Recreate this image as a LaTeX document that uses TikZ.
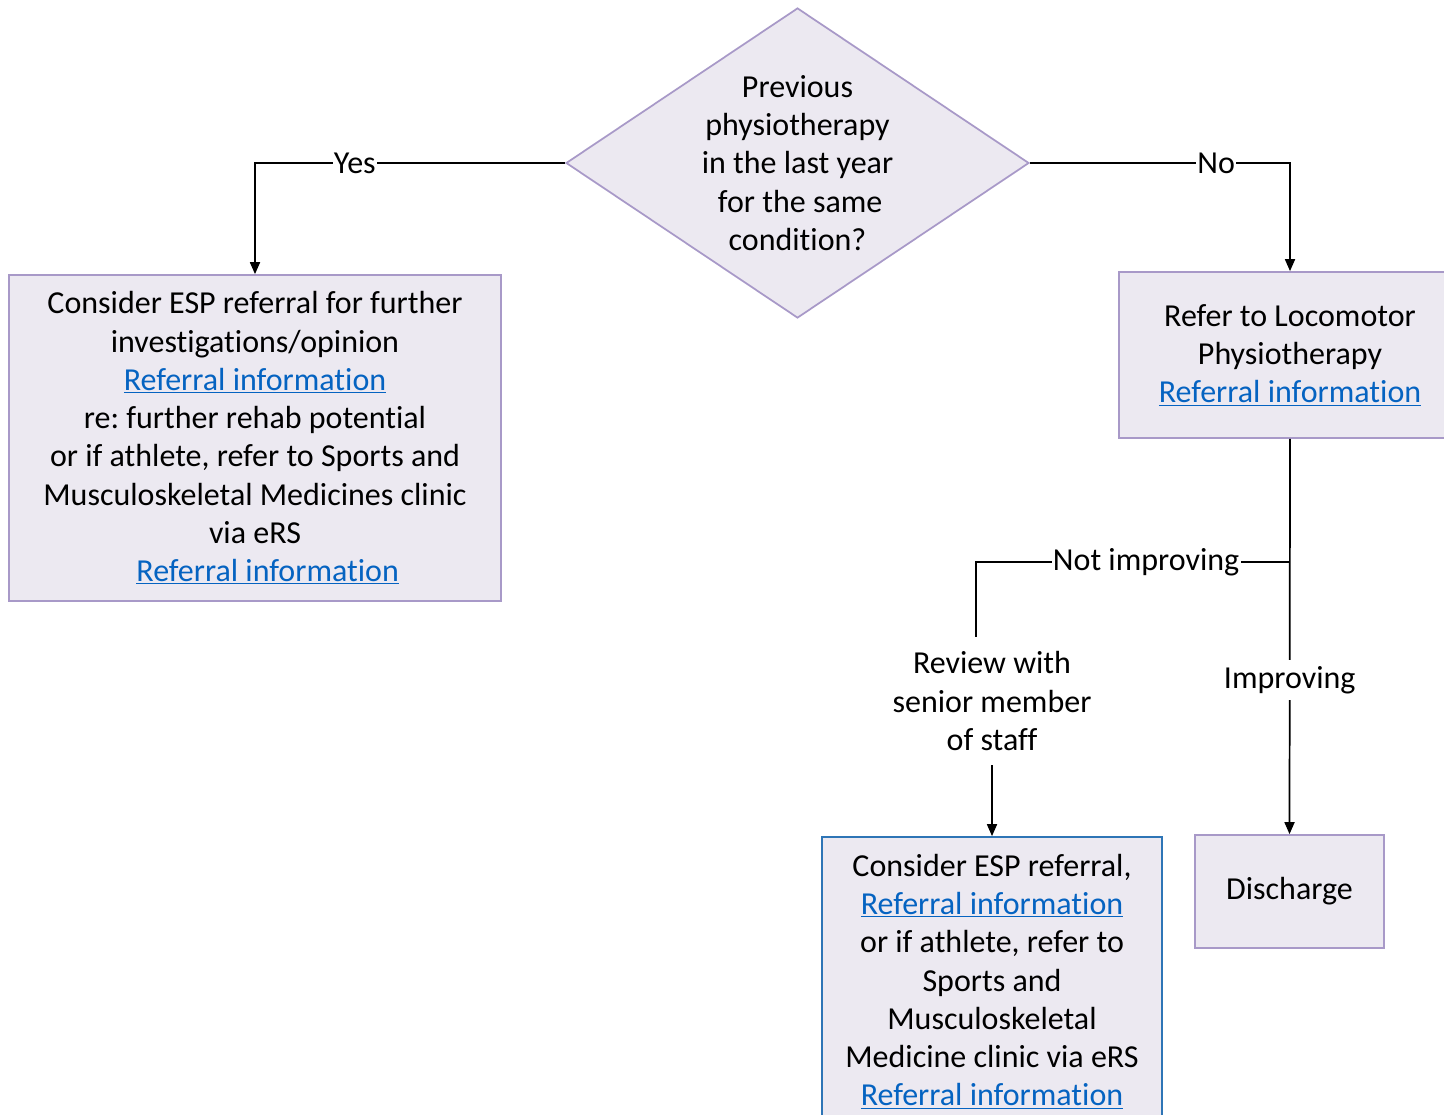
\documentclass[tikz,border=0pt]{standalone}
\usepackage{fontspec}
\setmainfont{Carlito}[Ligatures={NoCommon,NoContextual}, RawFeature={-liga;-clig;-dlig}]
\frenchspacing
\usetikzlibrary{shapes.geometric,arrows.meta}
\definecolor{boxfill}{HTML}{ECE9F1}
\definecolor{boxline}{HTML}{A899C8}
\definecolor{bluebd}{HTML}{2E75B6}
\definecolor{linkblue}{HTML}{0563C1}
\newcommand{\lnk}{{\color{linkblue}\underline{Referral information}}}
\tikzset{
  base/.style={font=\fontsize{24}{28.7}\selectfont, align=center},
  box/.style={base, draw=boxline, fill=boxfill, line width=1.3pt, inner sep=0pt},
  bluebox/.style={box, draw=bluebd},
  decision/.style={diamond, draw=boxline, fill=boxfill, line width=1.3pt, inner sep=0pt},
  plain/.style={base, inner xsep=4pt, inner ysep=11pt},
  lab/.style={base, fill=white, inner xsep=1pt, inner ysep=2pt},
  vlab/.style={base, fill=white, inner xsep=2pt, inner ysep=5pt},
  conn/.style={line width=1.3pt, black},
  arr/.style={conn, -{Triangle[length=9pt,width=7.5pt]}}
}
\begin{document}
\begin{tikzpicture}[x=0.75pt, y=-0.75pt]
\useasboundingbox (0,0) rectangle (1444,1114);
\clip (0,0) rectangle (1444,1114);
\fill[white] (0,0) rectangle (1444,1114);

\node[decision, minimum width=347.25pt, minimum height=232.5pt] (q) at (797.5,163) {};
\node[base] (qt) at (q.center) {Previous\\ physiotherapy\\ in the last year\\ \hspace*{4pt}for the same\\ condition?};

\node[box, minimum width=369pt, minimum height=244.5pt] (esp) at (255,438)
  {Consider ESP referral for further\\ investigations/opinion\\ \lnk\\ re: further rehab potential\\ or if athlete, refer to Sports and\\ Musculoskeletal Medicines clinic\\ via eRS\\ \hspace*{19pt}\lnk};

\node[box, minimum width=256.5pt, minimum height=124.5pt] (loc) at (1290,355)
  {Refer to Locomotor\\ Physiotherapy\\ \lnk};

\node[box, minimum width=141.75pt, minimum height=84.75pt] (dis) at (1289.5,891.5) {Discharge};

\node[plain] (rev) at (992,701) {Review with\\ senior member\\ of staff};

\node[bluebox, minimum width=255pt, minimum height=216.75pt] (esp2) at (992,981.5)
  {Consider ESP referral,\\ \lnk\\ or if athlete, refer to\\ Sports and\\ Musculoskeletal\\ Medicine clinic via eRS\\ \lnk};

\draw[arr] (q.west) -| node[lab, pos=0.339] {Yes} (esp.north);
\draw[arr] (q.east) -| node[lab, pos=0.358] {No} (loc.north);
\draw[arr] (loc.south) -- coordinate[pos=0.312] (split) node[vlab, pos=0.61] {Improving} (dis.north);
\draw[conn] (split) -| node[lab, pos=0.229] {Not improving} ([xshift=-12pt]rev.north);
\draw[arr] (rev.south) -- (esp2.north);
\end{tikzpicture}
\end{document}
